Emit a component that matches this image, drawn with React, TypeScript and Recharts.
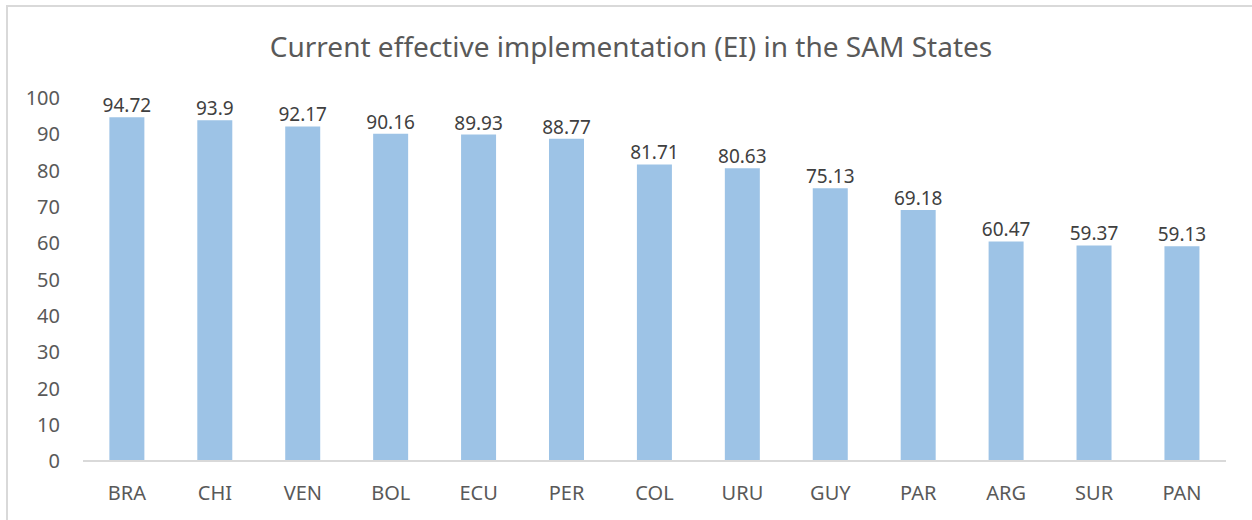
import { Bar, BarChart, XAxis, YAxis, LabelList } from "recharts";

const countries = ["BRA", "CHI", "VEN", "BOL", "ECU", "PER", "COL", "URU", "GUY", "PAR", "ARG", "SUR", "PAN"];
const eiValues = [94.72, 93.9, 92.17, 90.16, 89.93, 88.77, 81.71, 80.63, 75.13, 69.18, 60.47, 59.37, 59.13];
const yTicks = [0, 10, 20, 30, 40, 50, 60, 70, 80, 90, 100];

const data = countries.map((c, i) => ({ name: c, ei: eiValues[i] }));

const font = "'Noto Sans', sans-serif";
const grey = "#595959";

export default function App() {
  return (
    <div style={{ position: "fixed", inset: 0, overflow: "hidden", background: "#fff", fontFamily: font }}>
      <div
        style={{
          position: "absolute",
          left: 6,
          top: 5,
          width: 1300,
          height: 600,
          border: "2px solid #d9d9d9",
          boxSizing: "border-box",
        }}
      />
      <div
        style={{
          position: "absolute",
          left: 0,
          top: 32,
          width: 1262,
          textAlign: "center",
          fontSize: 28,
          lineHeight: "28px",
          color: grey,
        }}
      >
        Current effective implementation (EI) in the SAM States
      </div>
      <div style={{ position: "absolute", left: 0, top: 0 }}>
        <BarChart
          width={1252}
          height={520}
          data={data}
          margin={{ top: 98, right: 26, bottom: 29, left: 0 }}
          barCategoryGap="30%"
        >
          <XAxis
            dataKey="name"
            height={30}
            axisLine={{ stroke: "#d9d9d9", strokeWidth: 2 }}
            tickLine={false}
            tickSize={0}
            tickMargin={25}
            tick={{ fill: grey, fontSize: 20, fontFamily: font }}
            interval={0}
          />
          <YAxis
            width={83}
            domain={[0, 100]}
            ticks={yTicks}
            axisLine={false}
            tickLine={false}
            tickSize={0}
            tickMargin={23}
            tick={{ fill: grey, fontSize: 20, fontFamily: font }}
          />
          <Bar dataKey="ei" fill="#9dc3e6" isAnimationActive={false}>
            <LabelList
              dataKey="ei"
              position="top"
              offset={5}
              style={{ fill: "#404040", fontSize: 19, fontFamily: font }}
            />
          </Bar>
        </BarChart>
      </div>
    </div>
  );
}
